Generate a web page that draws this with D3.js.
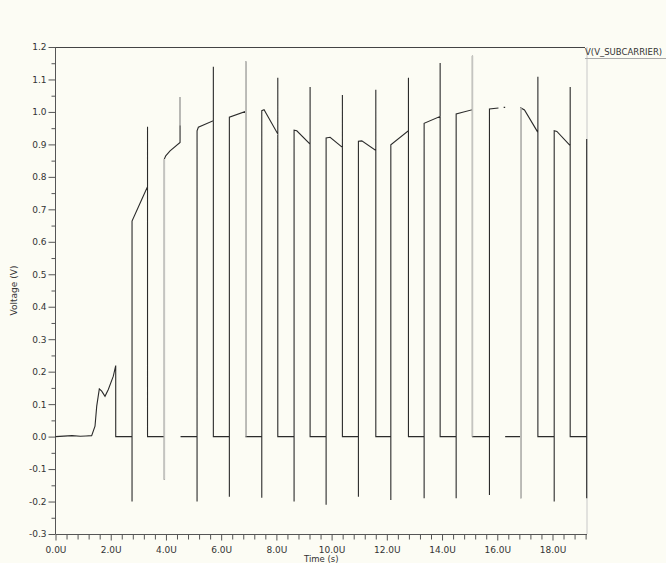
<!DOCTYPE html>
<html>
<head>
<meta charset="utf-8">
<script src="https://cdn.jsdelivr.net/npm/d3@7/dist/d3.min.js"></script>
<style>
  html, body { margin: 0; padding: 0; background: #fcfcf4; }
  svg { display: block; }
  text { font-family: "DejaVu Sans", Verdana, sans-serif; }
</style>
</head>
<body>
<svg id="chart" width="666" height="563"></svg>
<script>
// ---- data (time in microseconds, voltage in volts); null = gap in the trace ----
const timeUs = [
  0, 0.6, 0.9, 1.1, 1.31, 1.431, 1.493, 1.587, 1.674, 1.793, 1.913, 2.094, 2.181, 2.181,
  2.772, 2.772, 2.772, 3.123, 3.333, 3.333, 3.333,
  3.942, 3.942, 3.942, 3.993, 4.149, 4.511, 4.511, null,
  4.529, 5.127, 5.127, 5.127, 5.174, 5.717, 5.717, 5.717,
  6.297, 6.297, 6.297, 6.895, 6.895, 6.895,
  7.471, 7.471, 7.471, 7.554, 8.051, 8.051, 8.051,
  8.641, 8.641, 8.641, 8.739, 9.221, 9.221, 9.221,
  9.801, 9.801, 9.801, 9.946, 10.391, 10.391, 10.391,
  10.971, 10.971, 10.971, 11.094, 11.601, 11.601, 11.601,
  12.145, 12.145, 12.145, 12.783, 12.783, 12.783,
  13.351, 13.351, 13.351, 13.931, 13.931, 13.931,
  14.511, 14.511, 14.511, 15.101, 15.101, 15.101,
  15.717, 15.717, 15.717, 16.043, null, 16.232, 16.286, null,
  16.286, 16.855, 16.855, 16.855, 16.986, 17.471, 17.471, 17.471,
  18.062, 18.062, 18.062, 18.159, 18.641, 18.641, 18.641,
  19.239, 19.239, 19.239
];
const voltage = [
  0, 0.003, 0.001, 0.002, 0.003, 0.032, 0.094, 0.147, 0.14, 0.124, 0.145, 0.186, 0.219, 0,
  0, -0.2, 0.664, 0.73, 0.77, 0.954, 0,
  0, -0.133, 0.855, 0.865, 0.88, 0.906, 1.046, null,
  0, 0, -0.2, 0.942, 0.953, 0.973, 1.139, 0,
  0, -0.185, 0.984, 1.002, 1.155, 0,
  0, -0.188, 1.004, 1.007, 0.932, 1.105, 0,
  0, -0.2, 0.944, 0.942, 0.901, 1.077, 0,
  0, -0.21, 0.92, 0.922, 0.891, 1.052, 0,
  0, -0.185, 0.91, 0.911, 0.881, 1.068, 0,
  0, -0.195, 0.899, 0.942, 1.105, 0,
  0, -0.19, 0.965, 0.986, 1.151, 0,
  0, -0.19, 0.994, 1.007, 1.173, 0,
  0, -0.18, 1.009, 1.012, null, 1.014, 1.014, null,
  0, 0, -0.19, 1.012, 1.006, 0.937, 1.108, 0,
  0, -0.2, 0.942, 0.94, 0.896, 1.077, 0,
  0, -0.19, 0.917
];
// edges that the reference renders faintly
const fadedT  = [3.942, 4.511, 6.895, 15.101, 16.855];
const fadedV0 = [-0.133, 0.958, 0, 0, -0.19];
const fadedV1 = [0.855, 1.046, 1.155, 1.173, 1.012];

const xMajorTicks = [0, 2, 4, 6, 8, 10, 12, 14, 16, 18];
const xTickLabels = ["0.0U", "2.0U", "4.0U", "6.0U", "8.0U", "10.0U", "12.0U", "14.0U", "16.0U", "18.0U"];
const yMajorTicks = [-0.3, -0.2, -0.1, 0.0, 0.1, 0.2, 0.3, 0.4, 0.5, 0.6, 0.7, 0.8, 0.9, 1.0, 1.1, 1.2];
const yTickLabels = ["-0.3", "-0.2", "-0.1", "0.0", "0.1", "0.2", "0.3", "0.4", "0.5", "0.6", "0.7", "0.8", "0.9", "1.0", "1.1", "1.2"];
const legendLabel = "V(V_SUBCARRIER)";

(function draw() {
  const svg = d3.select("#chart");
  const pLeft = 55.5, pRight = 587, pTop = 47, pBottom = 534;
  const x = d3.scaleLinear().domain([0, 19.25]).range([pLeft, pRight]);
  const y = d3.scaleLinear().domain([-0.3, 1.2]).range([pBottom, pTop]);

  const axisColor = "#555";
  const tickFont = 9;

  // frame: top (dark) and right (light)
  svg.append("line").attr("x1", pLeft).attr("x2", pRight - 2).attr("y1", pTop + 0.5).attr("y2", pTop + 0.5)
    .attr("stroke", "#444").attr("stroke-width", 1);
  svg.append("line").attr("x1", pRight).attr("x2", pRight).attr("y1", pTop).attr("y2", pBottom)
    .attr("stroke", "#c8c8c8").attr("stroke-width", 1);

  // x minor ticks
  const xMinor = d3.range(0, 19.21, 0.4).filter(v => xMajorTicks.every(m => Math.abs(m - v) > 1e-6));
  const gx = svg.append("g").attr("transform", `translate(0,${pBottom + 0.5})`);
  gx.call(d3.axisBottom(x).tickValues(xMinor).tickSize(5).tickFormat(""))
    .call(g => g.select(".domain").remove());
  gx.selectAll("line").attr("stroke", axisColor);
  const gx2 = svg.append("g").attr("transform", `translate(0,${pBottom + 0.5})`);
  gx2.call(d3.axisBottom(x).tickValues(xMajorTicks).tickSize(6).tickSizeOuter(0).tickPadding(6)
      .tickFormat((d, i) => xTickLabels[i]));
  gx2.select(".domain").attr("stroke", axisColor).attr("d", `M${pLeft},0H${pRight}`);
  gx2.selectAll("line").attr("stroke", axisColor);
  gx2.selectAll("text").attr("font-size", tickFont).attr("fill", "#333")
    .attr("font-family", "'DejaVu Sans', sans-serif");

  // y minor ticks
  const yMinor = d3.range(-0.25, 1.2, 0.1);
  const gy = svg.append("g").attr("transform", `translate(${pLeft},0)`);
  gy.call(d3.axisLeft(y).tickValues(yMinor).tickSize(4).tickFormat(""))
    .call(g => g.select(".domain").remove());
  gy.selectAll("line").attr("stroke", axisColor);
  const gy2 = svg.append("g").attr("transform", `translate(${pLeft},0)`);
  gy2.call(d3.axisLeft(y).tickValues(yMajorTicks).tickSize(7).tickSizeOuter(0).tickPadding(2)
      .tickFormat((d, i) => yTickLabels[i]));
  gy2.select(".domain").attr("stroke", axisColor).attr("d", `M0,${pTop}V${pBottom}`);
  gy2.selectAll("line").attr("stroke", axisColor);
  gy2.selectAll("text").attr("font-size", tickFont).attr("fill", "#333")
    .attr("font-family", "'DejaVu Sans', sans-serif");

  // axis titles
  svg.append("text").attr("x", (pLeft + pRight) / 2).attr("y", 562)
    .attr("text-anchor", "middle").attr("font-size", 8.5).attr("fill", "#333").text("Time (s)");
  svg.append("text").attr("transform", `translate(17,${(pTop + pBottom) / 2}) rotate(-90)`)
    .attr("text-anchor", "middle").attr("font-size", 9).attr("fill", "#333").text("Voltage (V)");

  // legend (fitted inside the window)
  svg.append("text").attr("x", 585).attr("y", 55).attr("font-size", 8.5).attr("fill", "#333")
    .text(legendLabel);
  svg.append("line").attr("x1", 585).attr("x2", 666).attr("y1", 58.5).attr("y2", 58.5)
    .attr("stroke", "#aaa").attr("stroke-width", 1);

  // trace
  const pts = timeUs.map((t, i) => [t, voltage[i]]);
  const line = d3.line()
    .defined(d => d[0] !== null && d[1] !== null)
    .x(d => x(d[0])).y(d => y(d[1]));
  svg.append("path").datum(pts).attr("d", line)
    .attr("fill", "none").attr("stroke", "#2b2b2b").attr("stroke-width", 1.1);

  // faint edges
  svg.append("g").selectAll("line").data(fadedT).join("line")
    .attr("x1", d => x(d)).attr("x2", d => x(d))
    .attr("y1", (d, i) => y(fadedV0[i])).attr("y2", (d, i) => y(fadedV1[i]))
    .attr("stroke", "#c4c4c0").attr("stroke-width", 1.6);
})();
</script>
</body>
</html>
